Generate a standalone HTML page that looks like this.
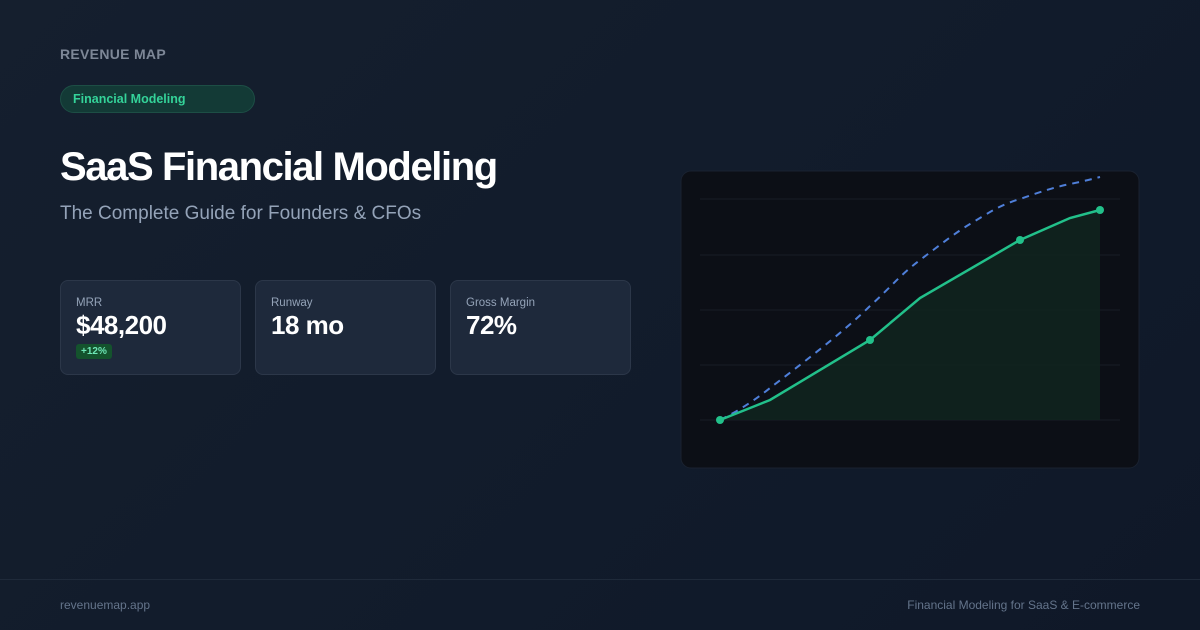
<!DOCTYPE html>
<html><head><meta charset="utf-8"><style>
*{margin:0;padding:0;box-sizing:border-box}
body{width:1200px;height:630px;overflow:hidden;background:linear-gradient(135deg,#151f2e 0%,#111b2b 60%,#0f1828 100%);font-family:"Liberation Sans",sans-serif;position:relative;color:#fff}
.a{position:absolute}
.brand{left:60px;top:46px;font-size:14px;font-weight:bold;color:#7d8797;letter-spacing:.3px}
.pill{left:60px;top:85px;width:195px;height:28px;border-radius:14px;background:#133a36;border:1px solid #1d4e45;color:#34d399;font-size:12.5px;font-weight:bold;padding:6px 0 0 12px}
h1{position:absolute;left:60px;top:145px;font-size:40px;font-weight:bold;letter-spacing:-1.4px}
.sub{left:60px;top:203px;font-size:19px;color:#94a3b8}
.card{top:280px;width:181px;height:95px;border-radius:8px;background:#1e293b;border:1px solid #2c3749;padding:16px 0 0 15px}
.card .l{font-size:11.5px;color:#94a3b8}
.card .v{font-size:26px;font-weight:bold;margin-top:1px;letter-spacing:-.5px}
.badge{display:inline-block;background:#14532d;color:#6ee7b7;font-size:10px;font-weight:bold;padding:2px 5px;border-radius:3px;margin-top:2px}
.foot{left:0;top:579px;width:1200px;height:1px;background:#1f2a3a}
.ft{top:598px;font-size:12px;color:#64748b}
</style></head><body>
<div class="a brand">REVENUE MAP</div>
<div class="a pill">Financial Modeling</div>
<h1>SaaS Financial Modeling</h1>
<div class="a sub">The Complete Guide for Founders &amp; CFOs</div>
<div class="a card" style="left:60px"><div class="l">MRR</div><div class="v">$48,200</div><span class="badge">+12%</span></div>
<div class="a card" style="left:255px"><div class="l">Runway</div><div class="v">18 mo</div></div>
<div class="a card" style="left:450px"><div class="l">Gross Margin</div><div class="v">72%</div></div>
<svg class="a" style="left:0;top:0" width="1200" height="630">
<rect x="681" y="171" width="458" height="297" rx="10" fill="#0c0f16" stroke="#1a2230"/>
<g stroke="#181e27" stroke-width="1">
<line x1="700" y1="199" x2="1120" y2="199"/><line x1="700" y1="255" x2="1120" y2="255"/><line x1="700" y1="310" x2="1120" y2="310"/><line x1="700" y1="365" x2="1120" y2="365"/><line x1="700" y1="420" x2="1120" y2="420"/>
</g>
<path d="M720 420 L770 400 L870 340 L920 298 L1020 240 L1070 218 L1100 210 L1100 420 Z" fill="#10231e" opacity="0.9"/>
<path d="M720 420 C740 410,755 400,770 388 C800 365,840 335,870 306 C890 288,900 275,920 260 C940 245,955 233,970 224 C990 212,1000 205,1020 199 C1040 192,1055 187,1070 184 C1085 181,1092 179,1100 177" fill="none" stroke="#4f7fd9" stroke-width="2" stroke-dasharray="7,6"/>
<polyline points="720,420 770,400 870,340 920,298 1020,240 1070,218 1100,210" fill="none" stroke="#22c08a" stroke-width="2.5"/>
<g fill="#22c08a"><circle cx="720" cy="420" r="4"/><circle cx="870" cy="340" r="4"/><circle cx="1020" cy="240" r="4"/><circle cx="1100" cy="210" r="4"/></g>
</svg>
<div class="a foot"></div>
<div class="a ft" style="left:60px">revenuemap.app</div>
<div class="a ft" style="right:60px">Financial Modeling for SaaS &amp; E-commerce</div>
</body></html>
